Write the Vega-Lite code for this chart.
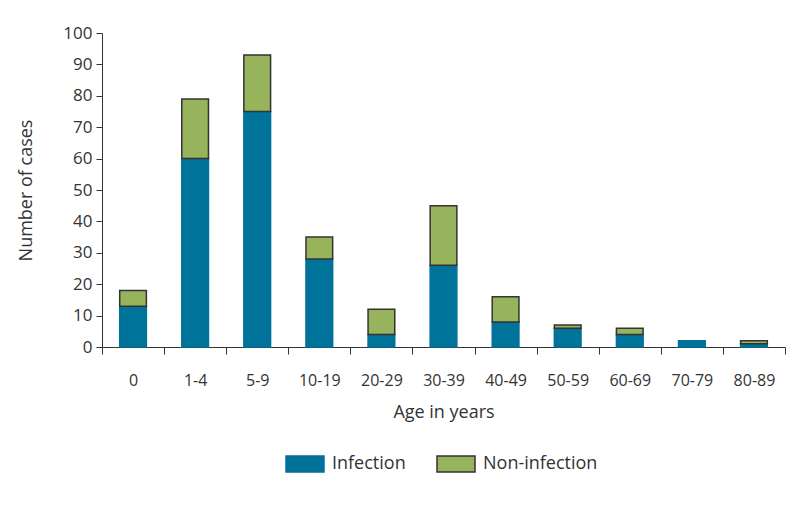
{
  "$schema": "https://vega.github.io/schema/vega-lite/v6.json",
  "autosize": "none",
  "width": 683,
  "height": 314,
  "padding": {"left": 102, "top": 33, "right": 15, "bottom": 161},
  "background": "white",
  "config": {
    "view": {"stroke": null},
    "font": "Open Sans",
    "axis": {"domainColor": "#333", "tickColor": "#333", "labelColor": "#333", "titleColor": "#333", "labelFont": "Open Sans", "titleFont": "Open Sans", "titleFontWeight": "normal", "labelFontSize": 15, "titleFontSize": 16, "grid": false}
  },
  "data": {
    "values": [
      {"age": "0", "type": "Infection", "cases": 13},
      {"age": "0", "type": "Non-infection", "cases": 5},
      {"age": "1-4", "type": "Infection", "cases": 60},
      {"age": "1-4", "type": "Non-infection", "cases": 19},
      {"age": "5-9", "type": "Infection", "cases": 75},
      {"age": "5-9", "type": "Non-infection", "cases": 18},
      {"age": "10-19", "type": "Infection", "cases": 28},
      {"age": "10-19", "type": "Non-infection", "cases": 7},
      {"age": "20-29", "type": "Infection", "cases": 4},
      {"age": "20-29", "type": "Non-infection", "cases": 8},
      {"age": "30-39", "type": "Infection", "cases": 26},
      {"age": "30-39", "type": "Non-infection", "cases": 19},
      {"age": "40-49", "type": "Infection", "cases": 8},
      {"age": "40-49", "type": "Non-infection", "cases": 8},
      {"age": "50-59", "type": "Infection", "cases": 6},
      {"age": "50-59", "type": "Non-infection", "cases": 1},
      {"age": "60-69", "type": "Infection", "cases": 4},
      {"age": "60-69", "type": "Non-infection", "cases": 2},
      {"age": "70-79", "type": "Infection", "cases": 2},
      {"age": "80-89", "type": "Infection", "cases": 1},
      {"age": "80-89", "type": "Non-infection", "cases": 1}
    ]
  },
  "mark": {"type": "bar", "width": {"band": 0.43}, "strokeWidth": 1.5},
  "encoding": {
    "x": {
      "field": "age", "type": "nominal",
      "sort": ["0", "1-4", "5-9", "10-19", "20-29", "30-39", "40-49", "50-59", "60-69", "70-79", "80-89"],
      "scale": {"paddingInner": 0, "paddingOuter": 0},
      "axis": {"title": "Age in years", "labelAngle": 0, "tickBand": "extent", "tickSize": 7, "labelPadding": 18, "titlePadding": 15, "labelFontSize": 16, "titleFontSize": 18}
    },
    "y": {
      "field": "cases", "type": "quantitative", "stack": "zero",
      "scale": {"domain": [0, 100]},
      "axis": {"title": "Number of cases", "values": [0,10,20,30,40,50,60,70,80,90,100], "tickSize": 6, "labelPadding": 4, "titlePadding": 27, "labelFontSize": 17, "titleFontSize": 18}
    },
    "order": {"field": "type", "sort": "ascending"},
    "fill": {
      "field": "type", "type": "nominal",
      "scale": {"domain": ["Infection", "Non-infection"], "range": ["#00739A", "#97B35B"]},
      "legend": {"title": null, "orient": "none", "legendX": 192, "legendY": 420, "direction": "horizontal", "labelFontSize": 18, "labelColor": "#333", "labelFont": "Open Sans", "symbolType": "M-1.9,-0.8H1.9V0.8H-1.9Z", "symbolSize": 400, "symbolStrokeWidth": 1.5, "columnPadding": 28, "labelOffset": 16}
    },
    "stroke": {
      "field": "type", "type": "nominal",
      "scale": {"domain": ["Infection", "Non-infection"], "range": ["#00739A", "#333333"]},
      "legend": null
    }
  }
}
